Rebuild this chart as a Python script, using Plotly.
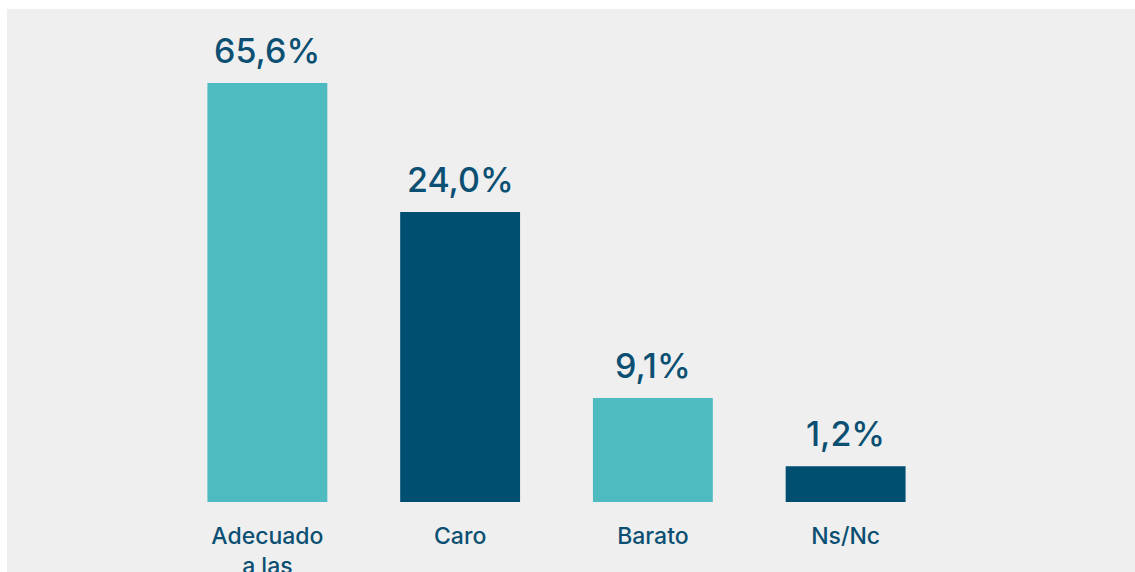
import plotly.graph_objects as go

categories = ["Adecuado<br>a las<br>necesidades", "Caro", "Barato", "Ns/Nc"]
values = [65.6, 24.0, 9.1, 1.2]          # percentages shown on the labels
bar_heights = [65.6, 45.4, 16.3, 5.6]    # bar heights as drawn in the reference (not to scale)
labels = ["65,6%", "24,0%", "9,1%", "1,2%"]
colors = ["#4dbbbf", "#004e70", "#4dbbbf", "#004e70"]

TEXT = "#0b4f72"
FONT = "Inter, Lato, sans-serif"

fig = go.Figure()
fig.add_trace(go.Bar(
    x=list(range(len(categories))),
    y=bar_heights,
    marker=dict(color=colors, line=dict(width=0)),
    width=0.622,
    hoverinfo="skip",
))

for i, (h, lab) in enumerate(zip(bar_heights, labels)):
    fig.add_annotation(x=i, y=h, text=lab, showarrow=False, yanchor="bottom",
                       yshift=10, font=dict(size=34, color=TEXT, family=FONT, weight=500))

fig.update_layout(
    width=1128, height=563,
    margin=dict(l=163.5, r=192.5, t=51, b=70, autoexpand=False),
    paper_bgcolor="#efefef", plot_bgcolor="#efefef",
    showlegend=False,
    xaxis=dict(range=[-0.5, 3.5], tickmode="array", tickvals=list(range(4)),
               ticktext=categories, showgrid=False, zeroline=False, showline=False,
               ticks="outside", ticklen=13, tickcolor="rgba(0,0,0,0)",
               tickfont=dict(size=23, color=TEXT, family=FONT, weight=500), automargin=False),
    yaxis=dict(range=[0, 69.2], visible=False, showgrid=False, zeroline=False),
)

fig.write_html("out.html",
               post_script="document.body.style.margin='9px 0 0 7px';document.body.style.overflow='hidden';")
